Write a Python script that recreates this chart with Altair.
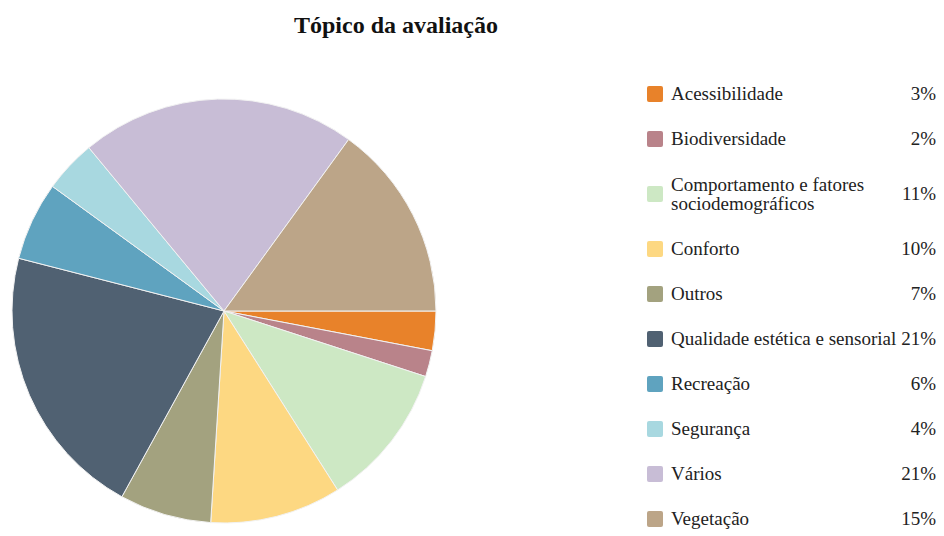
import math
import altair as alt
import pandas as pd

categories = [
    "Acessibilidade",
    "Biodiversidade",
    "Comportamento e fatores\nsociodemográficos",
    "Conforto",
    "Outros",
    "Qualidade estética e sensorial",
    "Recreação",
    "Segurança",
    "Vários",
    "Vegetação",
]
values = [3, 2, 11, 10, 7, 21, 6, 4, 21, 15]
colors = [
    "#E8822A", "#B9838A", "#CDE8C4", "#FDD882", "#A3A27F",
    "#506172", "#5FA3BF", "#A8D8E0", "#C8BDD6", "#BCA588",
]

FONT = "Liberation Serif"
FS, LH = 19, 19

df = pd.DataFrame({"cat": categories, "value": values})
df["idx"] = range(len(df))
df["pct"] = [f"{v}%" for v in values]

# legend row positions derived from label line counts
pitch, extra = 45, 20
pos, tpos, acc = [], [], -2.0
for c in categories:
    n = c.count("\n")
    p = acc + n * extra / 2 + 1
    pos.append(p)
    tpos.append(p - n * LH / 2)
    acc += pitch + n * extra
df["pos"] = pos
df["tpos"] = tpos

color = alt.Color("cat:N", scale=alt.Scale(domain=categories, range=colors), legend=None)

pie = alt.Chart(df).mark_arc(radius=212, stroke="#f2f2f2", strokeWidth=1).encode(
    theta=alt.Theta("value:Q", stack=True,
                    scale=alt.Scale(range=[math.pi / 2, math.pi / 2 + 2 * math.pi])),
    order=alt.Order("idx:Q"),
    color=color,
).properties(width=432, height=432)

H = 432
ysc = alt.Scale(domain=[0, H], range=[0, H], zero=False, nice=False)

swatch_path = ("M -0.75,-1 L 0.75,-1 Q 1,-1 1,-0.75 L 1,0.75 Q 1,1 0.75,1 "
               "L -0.75,1 Q -1,1 -1,0.75 L -1,-0.75 Q -1,-1 -0.75,-1 Z")

base = alt.Chart(df)
sw = base.mark_point(shape=swatch_path, filled=True, size=256, opacity=1).encode(
    x=alt.value(15), y=alt.Y("pos:Q", scale=ysc, axis=None), color=color
)
lab = base.mark_text(align="left", baseline="middle", font=FONT, fontSize=FS,
                     color="#222", lineBreak="\n", lineHeight=LH).encode(
    x=alt.value(31), y=alt.Y("tpos:Q", scale=ysc, axis=None), text="cat:N"
)
pct = base.mark_text(align="right", baseline="middle", font=FONT, fontSize=FS,
                     color="#222").encode(
    x=alt.value(296), y=alt.Y("pos:Q", scale=ysc, axis=None), text="pct:N"
)
legend = alt.layer(sw, lab, pct).properties(width=296, height=H)

chart = alt.hconcat(pie, legend, spacing=200).properties(
    title=alt.TitleParams("Tópico da avaliação", font=FONT, fontSize=24,
                          fontWeight="bold", color="#111", anchor="middle",
                          dx=-76, offset=47),
    padding={"left": 0, "top": 6, "right": 0, "bottom": 0},
).configure_view(stroke=None)

chart.save("out.html", embed_options={"renderer": "svg", "actions": False})
